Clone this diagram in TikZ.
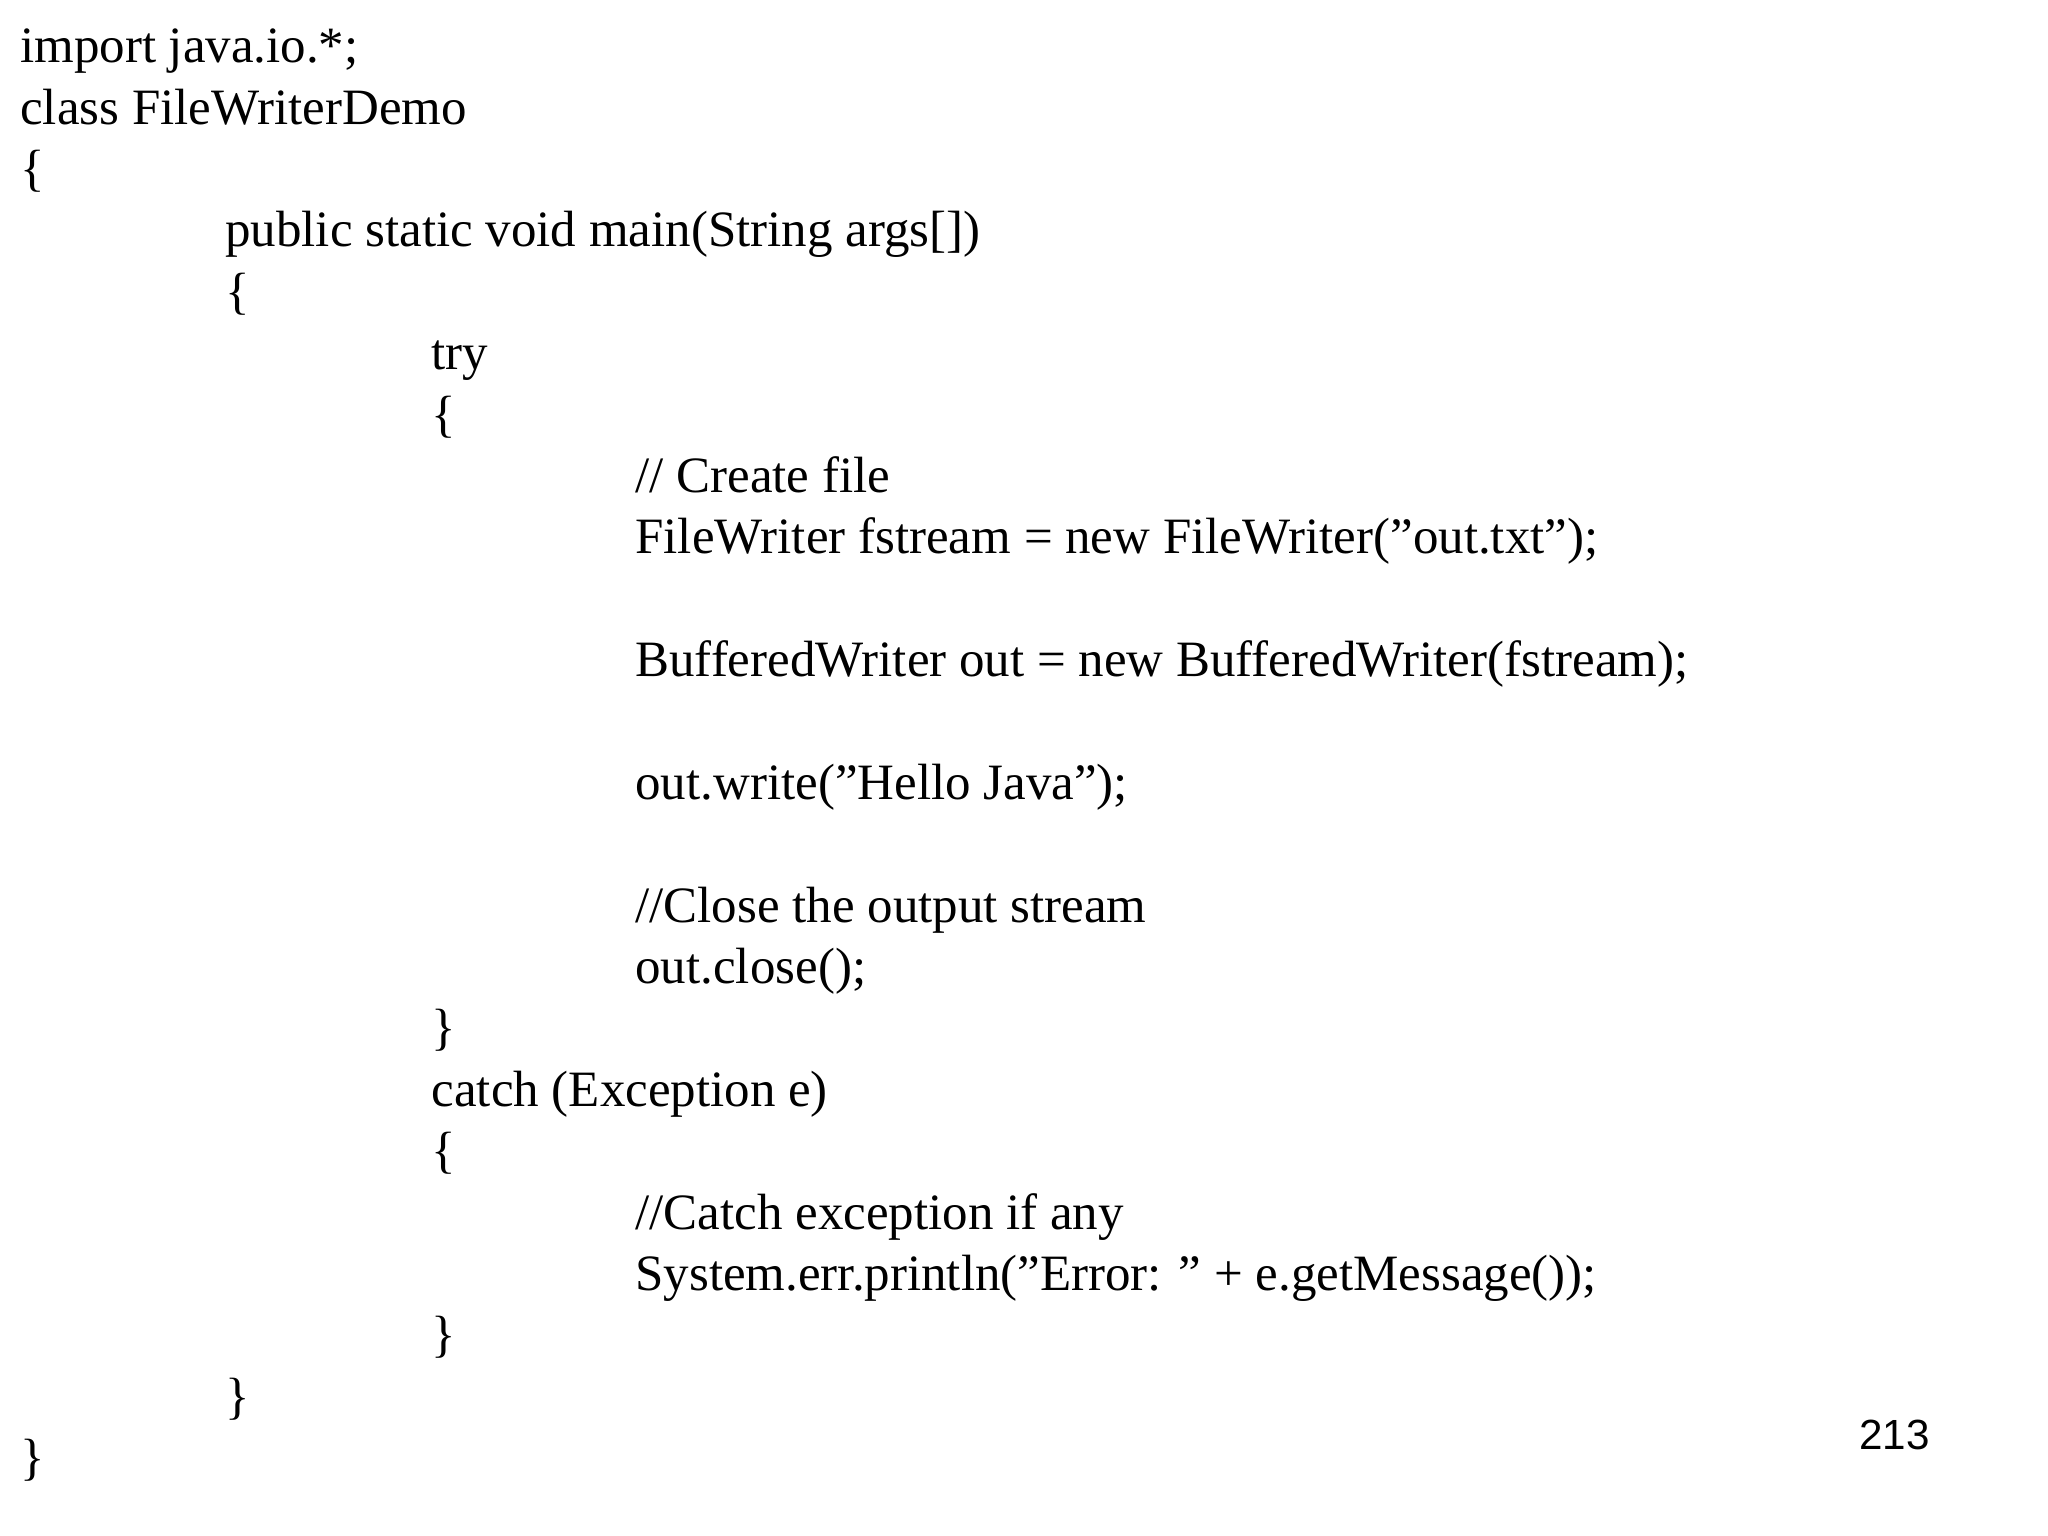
\documentclass[tikz,border=0pt]{standalone}
\usepackage{fontspec}
\setmainfont{Liberation Serif}
\newfontfamily\pnum{Liberation Sans}
\begin{document}
\begin{tikzpicture}[x=0.01306cm,y=-0.01306cm,
  code/.style={anchor=base west,inner sep=0pt,font=\fontsize{14.5pt}{17pt}\selectfont}]
\useasboundingbox (0,0) rectangle (1568,1176);
\node[code] (l1) at (15,48) {import java.io.*;};
\node[code] (l2) at (15,95) {class FileWriterDemo};
\node[code] (l3) at (15,142) {\{};
\node[code] (l4) at (172,189) {public static void main(String args[])};
\node[code] (l5) at (172,236) {\{};
\node[code] (l6) at (330,283) {try};
\node[code] (l7) at (330,330) {\{};
\node[code] (l8) at (486,377) {// Create file};
\node[code] (l9) at (486,424) {FileWriter fstream = new FileWriter("out.txt");};
\node[code] (l10) at (486,518) {BufferedWriter out = new BufferedWriter(fstream);};
\node[code] (l11) at (486,612) {out.write("Hello Java");};
\node[code] (l12) at (486,706) {//Close the output stream};
\node[code] (l13) at (486,753) {out.close();};
\node[code] (l14) at (330,800) {\}};
\node[code] (l15) at (330,847) {catch (Exception e)};
\node[code] (l16) at (330,894) {\{};
\node[code] (l17) at (486,941) {//Catch exception if any};
\node[code] (l18) at (486,988) {System.err.println("Error: " + e.getMessage());};
\node[code] (l19) at (330,1035) {\}};
\node[code] (l20) at (172,1082) {\}};
\node[code] (l21) at (15,1129) {\}};
\node[anchor=base west,inner sep=0pt,font=\pnum\fontsize{12pt}{14pt}\selectfont] (pg) at (1423,1110) {213};
\end{tikzpicture}
\end{document}
